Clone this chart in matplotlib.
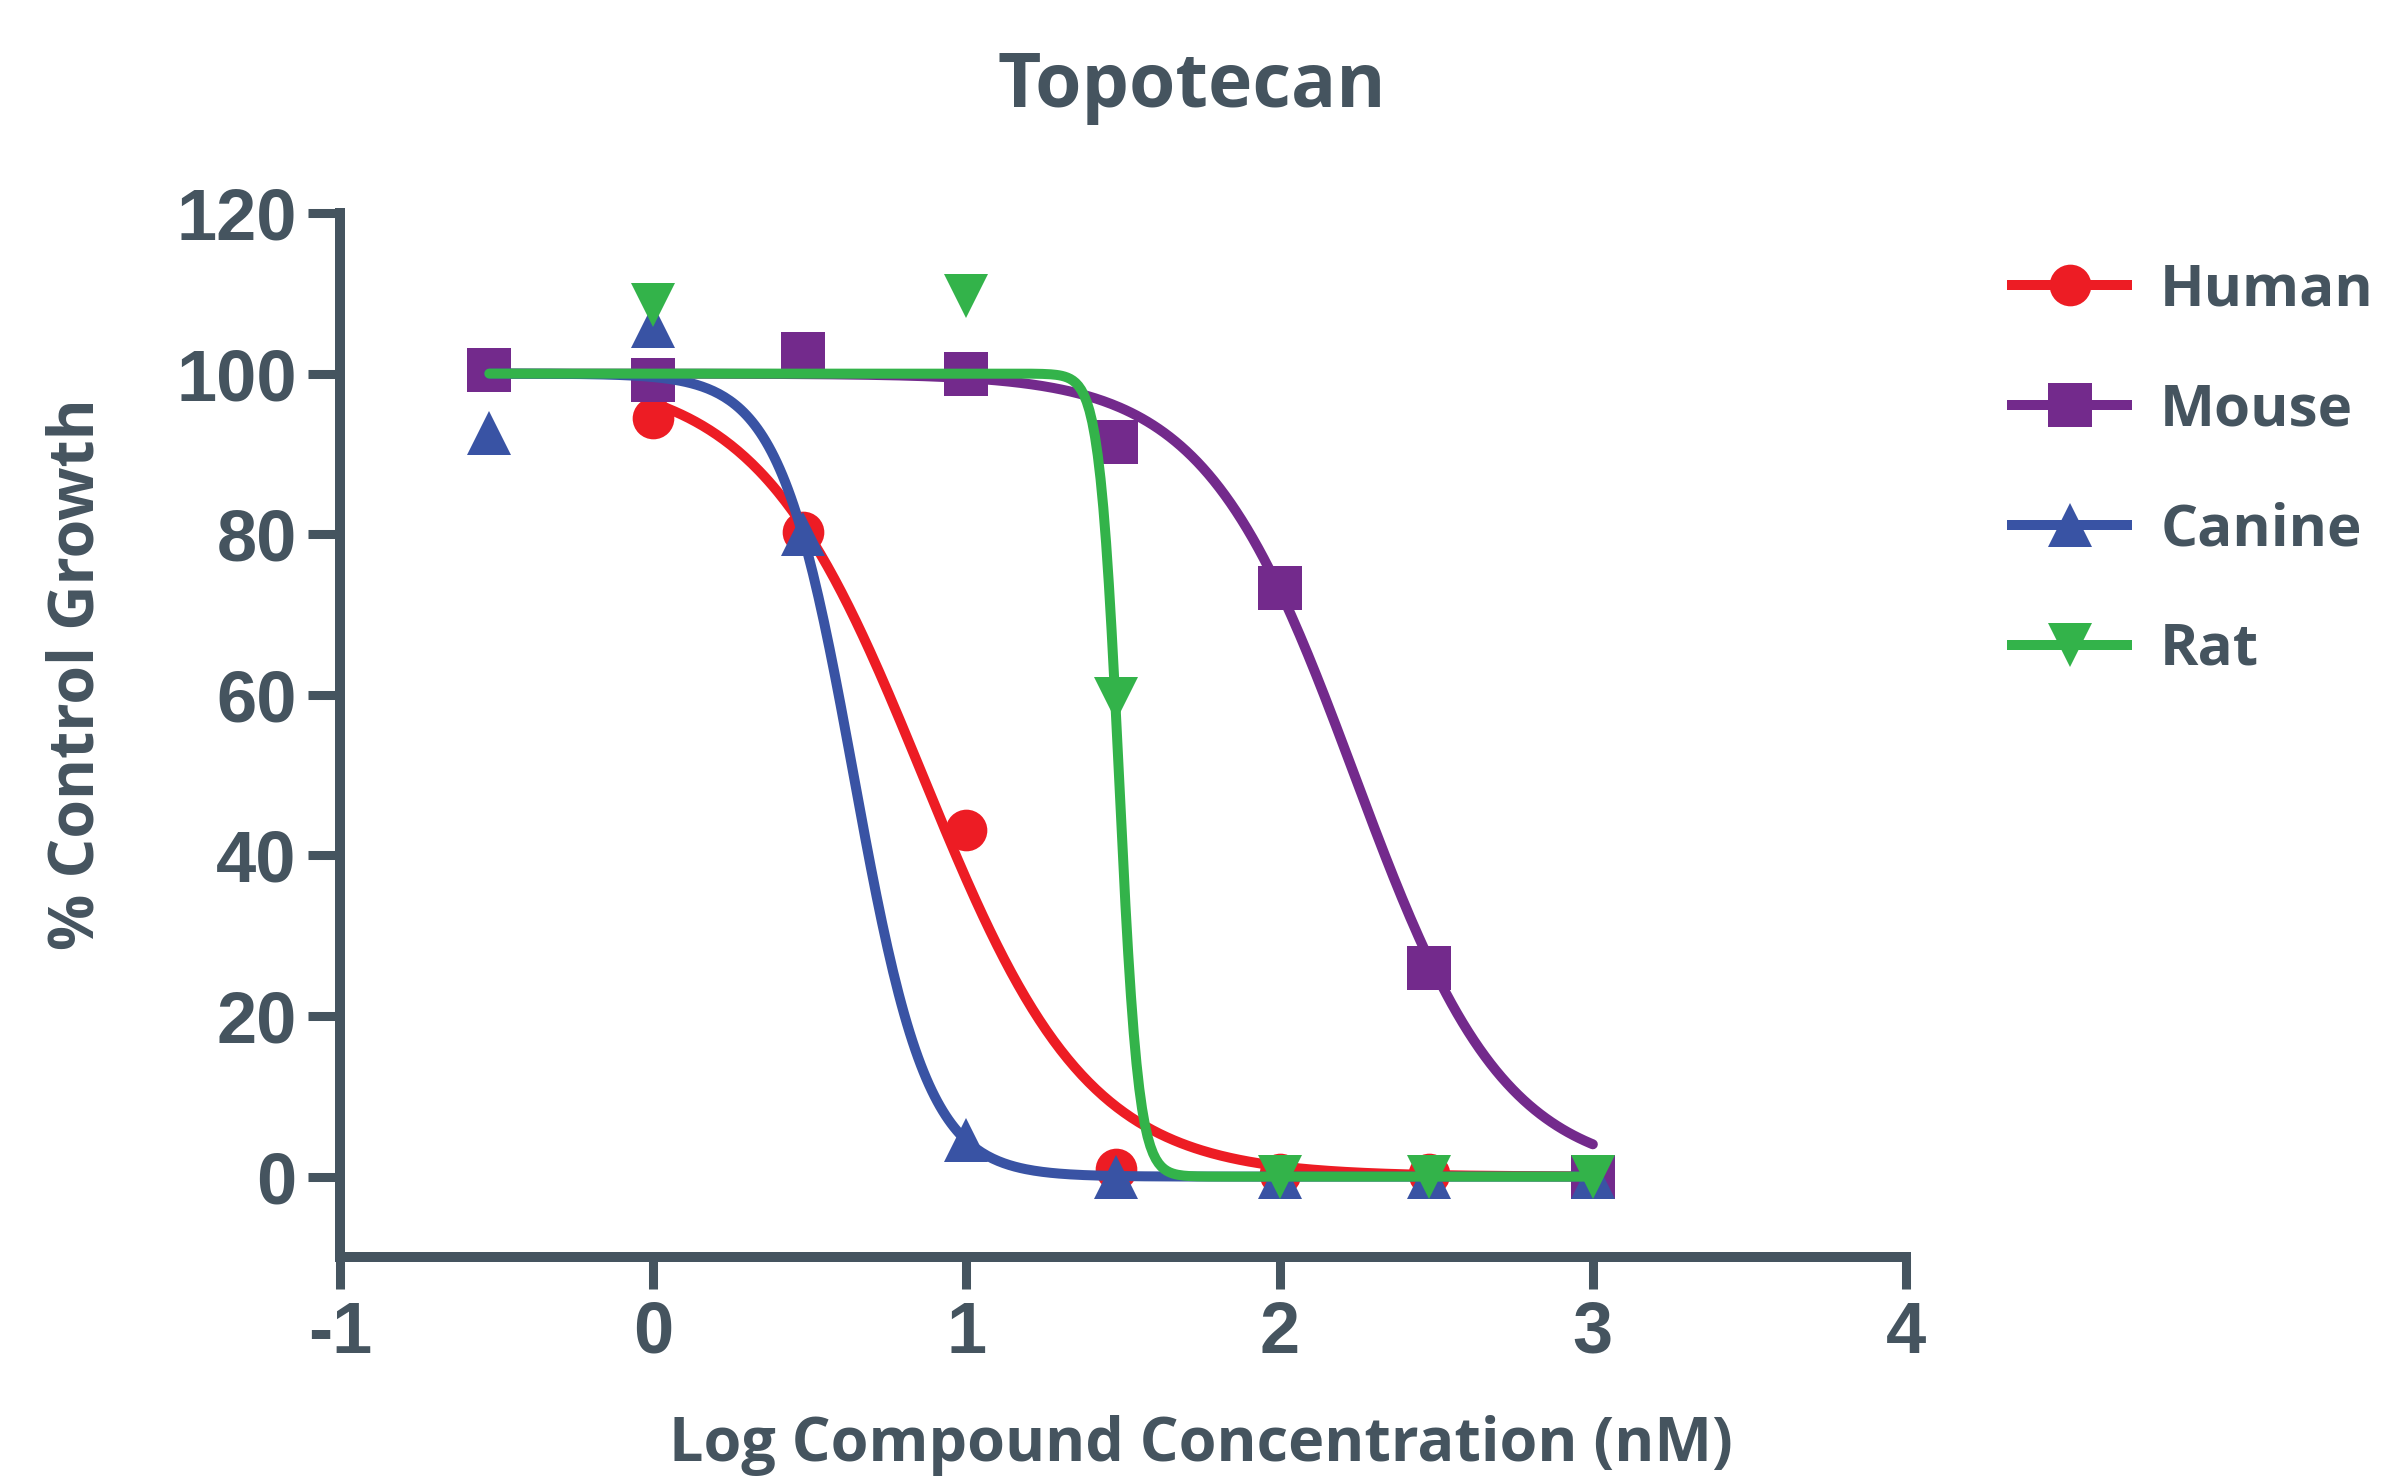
import numpy as np
import matplotlib
matplotlib.use("Agg")
import matplotlib.pyplot as plt
from matplotlib.lines import Line2D

plt.rcParams["axes.unicode_minus"] = False

# log10 of concentrations (nM): 0.3, 1, 3, 10, 30, 100, 300, 1000
log_conc = [-0.523, 0.0, 0.477, 1.0, 1.477, 2.0, 2.477, 3.0]

# % control growth (None = no point there)
human = [None, 94.5, 80.3, 43.2, 0.9, 0.3, 0.3, 0.0]
mouse = [100.4, 99.2, 102.5, 100.0, 91.5, 73.3, 26.0, 0.0]
canine = [92.6, 105.9, 80.0, 4.5, 0.0, 0.0, 0.0, 0.0]
rat = [None, 108.5, None, 109.6, 59.5, 0.0, 0.0, 0.0]

# fitted dose-response parameters: top, bottom, logIC50, hill slope, curve x range
fit_top = [100, 100, 100, 100]
fit_bottom = [0, 0, 0, 0]
fit_logic50 = [0.86, 2.239, 0.64, 1.487]
fit_hill = [1.65, 1.81, 3.69, 14.0]
fit_start = [0.0, -0.523, -0.523, -0.523]
fit_end = [3.0, 3.0, 3.0, 3.0]

names = ["Human", "Mouse", "Canine", "Rat"]
colors = ["#ed1c24", "#732a8c", "#3953a4", "#33b34a"]
markers = ["o", "s", "^", "v"]
msizes = [30, 31, 31, 31]

TXT = "#45545f"
LABEL_FONT = "Open Sans"
TICK_FONT = "Liberation Sans"

fig = plt.figure(figsize=(23.82, 14.77), dpi=100)
ax = fig.add_axes([0.1427, 0.149, 0.6575, 0.7068])

series = [human, mouse, canine, rat]
for i, vals in enumerate(series):
    xs = [x for x, v in zip(log_conc, vals) if v is not None]
    ys = [v for v in vals if v is not None]
    ax.plot(xs, ys, linestyle="none", marker=markers[i], ms=msizes[i],
            color=colors[i], mew=0, zorder=2 + i)
    # four-parameter logistic fit curve
    xc = np.linspace(fit_start[i], fit_end[i], 400)
    yc = fit_bottom[i] + (fit_top[i] - fit_bottom[i]) / (1 + 10 ** ((xc - fit_logic50[i]) * fit_hill[i]))
    ax.plot(xc, yc, color=colors[i], lw=7.2, solid_capstyle="round", zorder=2.5 + i)

ax.set_xlim(-1, 4)
ax.set_ylim(-10, 120)
ax.set_xticks([-1, 0, 1, 2, 3, 4])
ax.set_yticks([0, 20, 40, 60, 80, 100, 120])

for s in ["top", "right"]:
    ax.spines[s].set_visible(False)
for s in ["left", "bottom"]:
    ax.spines[s].set_linewidth(7.2)
    ax.spines[s].set_color(TXT)
    ax.spines[s].set_capstyle("projecting")

ax.tick_params(direction="out", length=23, width=6.5, color=TXT, pad=8,
               labelsize=52, labelcolor=TXT)
for lab in ax.get_xticklabels() + ax.get_yticklabels():
    lab.set_fontfamily(TICK_FONT)
    lab.set_fontweight("bold")

handles = [Line2D([], [], color=colors[i], lw=7.2, marker=markers[i],
                  ms=msizes[i], mew=0) for i in range(4)]
fig.legend(handles, names, loc="upper left", bbox_to_anchor=(0.8447, 0.823),
           frameon=False, borderpad=0, borderaxespad=0, handlelength=1.97,
           handletextpad=0.57, labelspacing=1.06, numpoints=1,
           prop={"family": LABEL_FONT, "weight": "bold", "size": 42},
           labelcolor=TXT)

fig.text(0.5004, 0.941, "Topotecan", ha="center", va="center",
         family=LABEL_FONT, weight="bold", fontsize=54, color=TXT)
fig.text(0.504, 0.011, "Log Compound Concentration (nM)", ha="center",
         va="baseline", family=LABEL_FONT, weight="bold", fontsize=44, color=TXT)
fig.text(0.0323, 0.5437, "% Control Growth", ha="center", va="center",
         rotation=90, family=LABEL_FONT, weight="bold", fontsize=45, color=TXT)

fig.savefig("out.png", dpi=100, facecolor="white")
